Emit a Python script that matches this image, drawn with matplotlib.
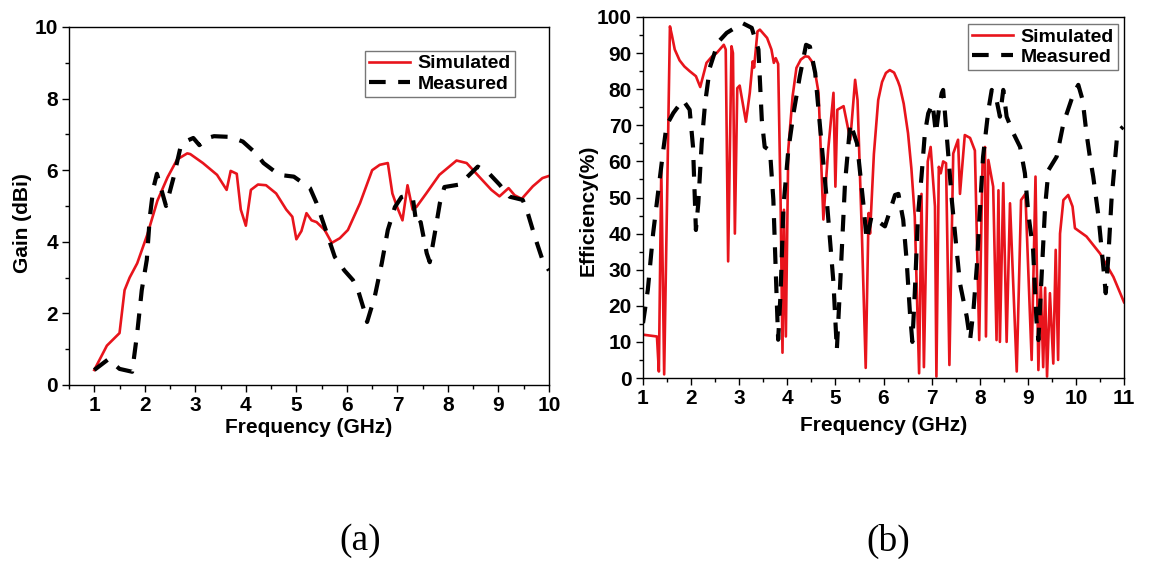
import matplotlib
matplotlib.use("Agg")
import matplotlib.pyplot as plt
from matplotlib.ticker import MultipleLocator

plt.rcParams['font.family'] = ['Liberation Sans', 'DejaVu Sans']
plt.rcParams['font.weight'] = 'bold'

# ---------------- (a) Gain ----------------
gain_sim_f = [1.0, 1.25, 1.5, 1.6, 1.7, 1.85, 2.05, 2.25, 2.45, 2.64, 2.84, 2.9, 3.15, 3.43, 3.62,
              3.7, 3.82, 3.9, 4.0, 4.1, 4.24, 4.4, 4.6, 4.8, 4.92, 5.0, 5.1, 5.2, 5.3, 5.4, 5.56,
              5.7, 5.86, 6.02, 6.26, 6.5, 6.65, 6.81, 6.9, 7.0, 7.1, 7.2, 7.3, 7.38, 7.57, 7.83,
              8.17, 8.37, 8.63, 8.86, 9.02, 9.2, 9.32, 9.46, 9.68, 9.87, 10.0]
gain_sim = [0.42, 1.1, 1.45, 2.65, 3.0, 3.4, 4.2, 5.15, 5.8, 6.3, 6.47, 6.45, 6.2, 5.87, 5.45,
            5.98, 5.9, 4.9, 4.45, 5.45, 5.6, 5.58, 5.35, 4.9, 4.7, 4.07, 4.3, 4.8, 4.6, 4.55, 4.33,
            3.97, 4.1, 4.33, 5.08, 6.0, 6.15, 6.2, 5.35, 4.95, 4.6, 5.58, 4.9, 4.98, 5.35, 5.87,
            6.27, 6.2, 5.8, 5.45, 5.27, 5.5, 5.3, 5.2, 5.55, 5.78, 5.84]

gain_meas_f = [1.0, 1.28, 1.5, 1.75, 1.85, 1.94, 2.04, 2.1, 2.17, 2.24, 2.32, 2.42, 2.57, 2.7,
               2.8, 2.96, 3.08, 3.24, 3.37, 3.69, 3.94, 4.2, 4.35, 4.66, 4.95, 5.27, 5.4, 5.56,
               5.76, 5.95, 6.12, 6.22, 6.36, 6.4, 6.55, 6.69, 6.81, 6.95, 7.08, 7.2, 7.31, 7.38,
               7.46, 7.58, 7.64, 7.74, 7.84, 7.93, 8.23, 8.59, 8.82, 9.02, 9.22, 9.48, 9.58, 9.72,
               9.87, 10.0]
gain_meas = [0.42, 0.72, 0.45, 0.37, 1.45, 2.65, 3.5, 4.7, 5.5, 5.9, 5.5, 5.0, 5.8, 6.6,
             6.8, 6.9, 6.7, 6.9, 6.95, 6.93, 6.8, 6.47, 6.2, 5.87, 5.82, 5.5, 5.08, 4.42,
             3.58, 3.2, 2.93, 2.65, 2.0, 1.76, 2.46, 3.4, 4.33, 4.97, 5.25, 5.3, 5.17, 4.45,
             4.55, 3.68, 3.43, 4.24, 5.08, 5.53, 5.6, 6.1, 5.9, 5.6, 5.26, 5.17, 4.8, 4.14,
             3.5, 3.2]

# ---------------- (b) Efficiency ----------------
eff_sim_f = [1.0, 1.29, 1.33, 1.38, 1.44, 1.56, 1.6, 1.66, 1.76, 1.86, 1.97, 2.1, 2.19, 2.32,
             2.43, 2.53, 2.68, 2.72,
             2.77, 2.84, 2.87, 2.91, 2.96, 3.01, 3.14, 3.22, 3.28, 3.31, 3.38, 3.43, 3.58, 3.67,
             3.72, 3.76, 3.81, 3.86, 3.9, 3.93, 3.97, 4.02, 4.11, 4.19, 4.28, 4.37, 4.44, 4.51,
             4.58, 4.65, 4.75,
             4.85, 4.96, 5.0, 5.04, 5.17, 5.31, 5.41, 5.46, 5.55, 5.63, 5.69, 5.72, 5.8, 5.89,
             5.97, 6.05, 6.13, 6.22, 6.3, 6.34, 6.42, 6.51, 6.58, 6.65, 6.74, 6.79, 6.84, 6.92,
             6.98, 7.07, 7.1, 7.15, 7.19, 7.24, 7.3,
             7.37, 7.45, 7.55, 7.59, 7.69, 7.8, 7.9, 7.99, 8.06, 8.11, 8.13, 8.18, 8.28, 8.35,
             8.39, 8.42, 8.49, 8.56, 8.63, 8.77, 8.86, 8.95, 9.08, 9.16, 9.22, 9.27, 9.32, 9.36,
             9.4, 9.46, 9.53, 9.58, 9.63, 9.67, 9.74, 9.84, 9.93, 9.98, 10.22, 10.5, 10.78, 11.0]
eff_sim = [12, 11.5, 1.8, 58, 1.0, 97.4, 95, 91, 88, 86.3, 85, 83.6, 80.6, 87.3,
           89, 90, 92.3, 91,
           32.3, 91.9, 90, 40, 80.3, 81, 71, 79, 87.7, 86, 96, 96.5, 94.2, 91,
           87.3, 88.6, 87, 49.4, 7, 46.6, 11.5, 63.2, 78, 85.9, 88.2, 89.1, 89, 87.7,
           84.5, 79, 43.9,
           63.2, 79, 53, 74.3, 75.3, 66, 82.6, 77, 40.2, 2.8, 45.7, 40, 62, 77,
           82, 84.5, 85.3, 84.6, 82.2, 80.7, 76, 67.8, 58, 44.7, 1.3, 51, 3, 60,
           64, 47.5, 0.4, 58.5, 56.7, 60, 59.5,
           3.6, 62.2, 66, 51, 67.3, 66.5, 63, 10.5, 60.4, 64, 11.5, 60.4, 53, 10.5,
           52, 10, 54, 10, 48.4, 1.8, 49.3, 51, 5, 55.8, 2.2, 26.2, 3, 25,
           0.4, 23.5, 4, 35.5, 5, 40, 49.3, 50.7, 47.5, 41.5, 39.2, 34.5, 28, 21]

eff_meas_f = [1.0, 1.1, 1.21, 1.31, 1.42, 1.49, 1.63, 1.83, 1.97, 2.04, 2.1, 2.15, 2.22, 2.29,
              2.39, 2.56, 2.74, 3.07, 3.26, 3.4, 3.47, 3.53, 3.64, 3.71, 3.78, 3.81, 3.86, 3.92,
              4.02, 4.13, 4.26, 4.39, 4.47, 4.58, 4.68, 4.82, 4.96, 5.03, 5.1, 5.2, 5.31, 5.45,
              5.58, 5.65, 5.75, 6.03, 6.24, 6.31, 6.41, 6.48, 6.55, 6.6, 6.65, 6.72, 6.79, 6.86,
              6.93, 7.02, 7.09, 7.15, 7.21, 7.24, 7.3, 7.35, 7.42, 7.52, 7.59, 7.73, 7.8, 7.87,
              7.94, 8.0, 8.07, 8.18, 8.25, 8.35, 8.42, 8.49, 8.56, 8.7, 8.84, 8.94, 9.01, 9.11,
              9.18, 9.22, 9.29, 9.36, 9.43, 9.6, 9.74, 9.95, 10.05, 10.14, 10.22, 10.29, 10.36,
              10.47, 10.57, 10.62, 10.67, 10.74, 10.85, 10.92, 10.98]
eff_meas = [15.2, 24.4, 40, 51, 63, 70, 73.4, 77, 74.3, 64, 41, 48.5, 65, 76,
            86, 93, 95.6, 98.3, 97, 91, 71.5, 64, 63, 49.4, 21.7, 10.6, 23.5, 47.5,
            63, 73.4, 83.6, 92.3, 91.8, 84.5, 69.7, 49.4, 26.3, 7.8, 26.3, 54, 70.6, 65,
            48.4, 38.2, 44.7, 42, 50.7, 51, 43.8, 32.7, 18, 10, 23.5, 45.6, 55.8, 67.8,
            73.3, 76, 67.8, 74.2, 78.9, 79.8, 69.6, 61.3, 49.3, 35.5, 26.2, 17, 10.5, 18.8,
            30.8, 45.6, 61.3, 74.2, 79.8, 77, 72.4, 79.8, 72.4, 67.8, 64, 56.7, 45.6, 35.5,
            16, 10.5, 29, 47.5, 57.6, 61.3, 70.5, 78.8, 81.2, 77, 67.8, 61.3, 55.8,
            44.7, 30.8, 23.5, 32.7, 49.3, 66, 68.8, 69.6]

W, H = 1159, 562
fig = plt.figure(figsize=(W / 100, H / 100), dpi=100)

def px_axes(l, t, r, b):
    return fig.add_axes([l / W, 1 - b / H, (r - l) / W, (b - t) / H])

ax1 = px_axes(69, 27, 549, 385)
ax2 = px_axes(643, 17, 1124, 378)

red = '#e8141c'
dash_style = dict(color='black', lw=3.0, dashes=(4, 3))

ax1.plot(gain_sim_f, gain_sim, color=red, lw=1.9, label='Simulated')
ax1.plot(gain_meas_f, gain_meas, label='Measured', **dash_style)
ax1.set_xlim(0.5, 10)
ax1.set_ylim(0, 10)
ax1.xaxis.set_major_locator(MultipleLocator(1))
ax1.xaxis.set_minor_locator(MultipleLocator(0.5))
ax1.yaxis.set_major_locator(MultipleLocator(2))
ax1.yaxis.set_minor_locator(MultipleLocator(1))
ax1.set_xlabel('Frequency (GHz)', fontsize=15, fontweight='bold', labelpad=2)
ax1.set_ylabel('Gain (dBi)', fontsize=15, fontweight='bold')
ax1.yaxis.set_label_coords(-0.077, 0.453)

ax2.plot(eff_sim_f, eff_sim, color=red, lw=1.9, label='Simulated')
ax2.plot(eff_meas_f, eff_meas, label='Measured', **dash_style)
ax2.set_xlim(1, 11)
ax2.set_ylim(0, 100)
ax2.xaxis.set_major_locator(MultipleLocator(1))
ax2.xaxis.set_minor_locator(MultipleLocator(0.5))
ax2.yaxis.set_major_locator(MultipleLocator(10))
ax2.yaxis.set_minor_locator(MultipleLocator(5))
ax2.set_xlabel('Frequency (GHz)', fontsize=15, fontweight='bold', labelpad=6)
ax2.set_ylabel('Efficiency(%)', fontsize=15, fontweight='bold')
ax2.yaxis.set_label_coords(-0.094, 0.465)

for ax in (ax1, ax2):
    ax.tick_params(which='both', direction='out', top=False, right=False, width=1.0)
    ax.tick_params(which='major', length=5, labelsize=15, pad=3)
    ax.tick_params(which='minor', length=3)
    for lab in ax.get_xticklabels() + ax.get_yticklabels():
        lab.set_fontweight('bold')
    for s in ax.spines.values():
        s.set_linewidth(1.0)

leg_kw = dict(frameon=True, fancybox=False, edgecolor='#777777', framealpha=1,
              prop={'weight': 'bold', 'size': 14}, handlelength=2.1, handletextpad=0.4,
              borderpad=0.2, labelspacing=0.15, borderaxespad=0)
l1 = ax1.legend(loc='upper right', bbox_to_anchor=(0.929, 0.933), **leg_kw)
l2 = ax2.legend(loc='upper right', bbox_to_anchor=(0.9875, 0.98), **leg_kw)
for l in (l1, l2):
    l.get_frame().set_linewidth(1.0)

fig.text(360 / W, 1 - 541 / H, '(a)', fontsize=27, family='Liberation Serif',
         fontweight='normal', ha='center', va='center')
fig.text(888 / W, 1 - 541 / H, '(b)', fontsize=27, family='Liberation Serif',
         fontweight='normal', ha='center', va='center')

fig.savefig('out.png', dpi=100)
